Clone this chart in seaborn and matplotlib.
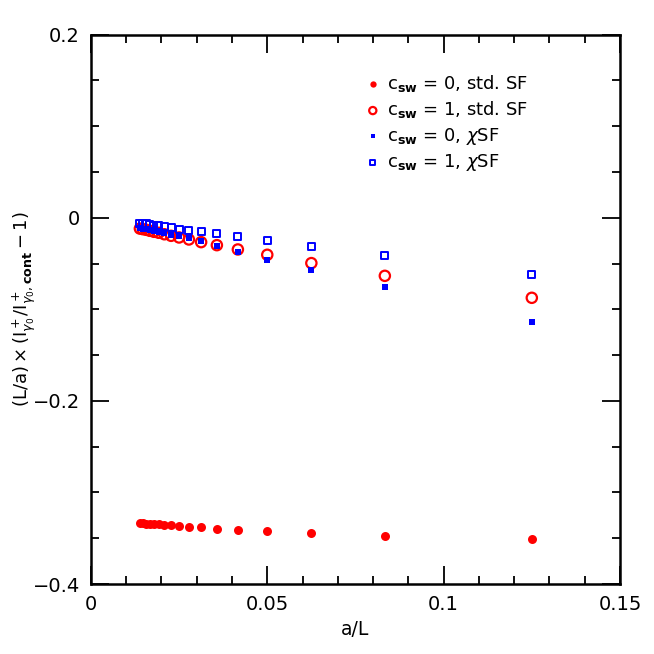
import numpy as np
import pandas as pd
import matplotlib
matplotlib.use('Agg')
import matplotlib.pyplot as plt
from matplotlib.ticker import MultipleLocator, FuncFormatter
import seaborn as sns

# lattice sizes L/a = 8, 12, ..., 72
L_vals = [8, 12, 16, 20, 24, 28, 32, 36, 40, 44, 48, 52, 56, 60, 64, 68, 72]
aL = [1.0 / L for L in L_vals]

# c_sw = 0, std. SF (filled red circles)
std_c0 = [-0.3505, -0.3475, -0.3446, -0.3425, -0.3410, -0.3396, -0.3380, -0.3373,
          -0.3363, -0.3357, -0.3352, -0.3348, -0.3345, -0.3342, -0.3340, -0.3338, -0.3336]
# c_sw = 1, std. SF (open red circles)
std_c1 = [-0.0874, -0.0634, -0.0495, -0.0404, -0.0346, -0.0299, -0.0266, -0.0237,
          -0.0215, -0.0197, -0.0180, -0.0164, -0.0153, -0.0142, -0.0131, -0.0124, -0.0118]
# c_sw = 0, chi SF (filled blue squares)
chi_c0 = [-0.1133, -0.0757, -0.0568, -0.0460, -0.0372, -0.0305, -0.0255, -0.0225,
          -0.0200, -0.0185, -0.0170, -0.0155, -0.0143, -0.0133, -0.0125, -0.0118, -0.0112]
# c_sw = 1, chi SF (open blue squares)
chi_c1 = [-0.0616, -0.0415, -0.0313, -0.0248, -0.0204, -0.0175, -0.0153, -0.0139,
          -0.0124, -0.0109, -0.0098, -0.0087, -0.0080, -0.0073, -0.0067, -0.0062, -0.0058]

labels = [r'$\mathrm{c}_{\mathbf{sw}}$ = 0, std. SF',
          r'$\mathrm{c}_{\mathbf{sw}}$ = 1, std. SF',
          r'$\mathrm{c}_{\mathbf{sw}}$ = 0, $\chi$SF',
          r'$\mathrm{c}_{\mathbf{sw}}$ = 1, $\chi$SF']

sns.set_style('ticks')
plt.rcParams['font.family'] = ['DejaVu Sans']
plt.rcParams['mathtext.fontset'] = 'dejavusans'
for key in ['text.color', 'axes.labelcolor', 'xtick.color', 'ytick.color', 'axes.edgecolor']:
    plt.rcParams[key] = 'black'

fig = plt.figure(figsize=(6.54, 6.54), dpi=100)
ax = fig.add_axes([0.139, 0.107, 0.809, 0.840])

red = '#ff0000'
blue = '#0000ff'

sns.scatterplot(x=aL, y=std_c0, ax=ax, marker='o', s=42, color=red,
                edgecolor=red, linewidth=0, label=labels[0], zorder=3)
sns.scatterplot(x=aL, y=std_c1, ax=ax, marker='o', s=55, facecolor='none',
                edgecolor=red, linewidth=1.6, label=labels[1], zorder=3)
sns.scatterplot(x=aL, y=chi_c0, ax=ax, marker='s', s=18, color=blue,
                edgecolor=blue, linewidth=0, label=labels[2], zorder=4)
sns.scatterplot(x=aL, y=chi_c1, ax=ax, marker='s', s=26, facecolor='none',
                edgecolor=blue, linewidth=1.4, label=labels[3], zorder=4)

ax.set_xlim(0, 0.15)
ax.set_ylim(-0.4, 0.2)
ax.xaxis.set_major_locator(MultipleLocator(0.05))
ax.xaxis.set_minor_locator(MultipleLocator(0.01))
ax.yaxis.set_major_locator(MultipleLocator(0.2))
ax.yaxis.set_minor_locator(MultipleLocator(0.05))

def fmt(v, pos):
    if abs(v) < 1e-9:
        return '0'
    s = ('%.2f' % v).rstrip('0').rstrip('.')
    return s.replace('-', '\u2212')

ax.xaxis.set_major_formatter(FuncFormatter(fmt))
ax.yaxis.set_major_formatter(FuncFormatter(fmt))
ax.tick_params(which='both', direction='in', top=True, right=True, width=1.3,
               labelsize=14, pad=8)
ax.tick_params(which='major', length=13)
ax.tick_params(which='minor', length=6)
for sp in ax.spines.values():
    sp.set_linewidth(1.8)

ax.set_xlabel('a/L', fontsize=13.5)
ax.set_ylabel(r'$(\mathrm{L/a})\times(\mathrm{I}^+_{\gamma_0}/\mathrm{I}^+_{\gamma_0,\mathbf{cont}}-1)$',
              fontsize=13)
ax.yaxis.set_label_coords(-0.1, 0.5)

leg = ax.legend(loc='upper left', bbox_to_anchor=(0.485, 0.96), frameon=False,
                fontsize=13, handletextpad=0.3, labelspacing=0.3,
                handlelength=1.0, markerscale=0.7)

fig.savefig('out.png', dpi=100)
